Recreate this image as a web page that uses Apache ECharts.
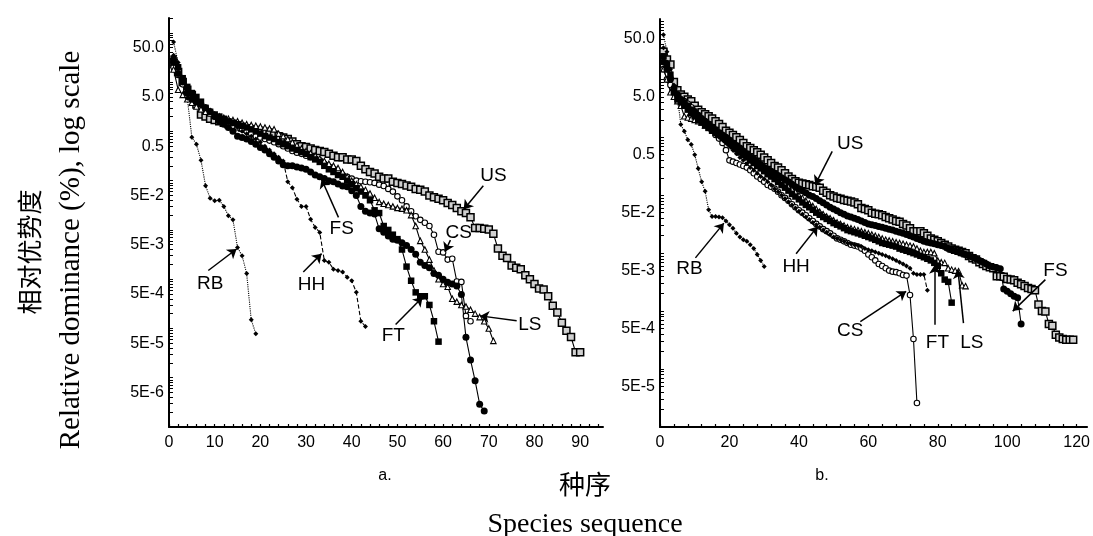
<!DOCTYPE html>
<html><head><meta charset="utf-8">
<script src="https://cdn.jsdelivr.net/npm/echarts@6/dist/echarts.min.js"></script>
<style>html,body{margin:0;padding:0;background:#fff}#c{width:1093px;height:536px}</style>
</head><body><div id="c"></div>
<script>
// ---------- Panel a data (relative dominance %, by species rank 1..n) ----------
const a_RB = [65,25,12,4.7,0.76,0.55,0.26,0.079,0.044,0.039,0.040,0.030,0.0195,0.016,0.0044,0.003,0.0013,0.00015,0.000078];
const a_HH = [35,20,12,7,5,4.5,3.8,3.2,2.7,2.3,2.0,1.8,1.6,1.4,1.2,1.0,0.9,0.8,0.7,0.6,0.5,0.42,0.35,0.3,0.25,0.095,0.072,0.042,0.030,0.030,0.0165,0.0112,0.0089,0.0024,0.0022,0.0016,0.0015,0.0014,0.0011,0.00093,0.00054,0.00014,0.00011];
const a_FS = [25,15,10,6,4.5,4,3.5,3,2.5,2.0,1.6,1.4,1.2,1.0,0.8,0.75,0.7,0.62,0.55,0.47,0.42,0.35,0.3,0.25,0.21,0.2,0.2,0.19,0.18,0.17,0.15,0.13,0.12,0.11,0.1,0.095,0.085,0.078,0.075,0.062,0.05,0.03,0.024,0.022,0.021,0.0105,0.009,0.0075,0.0065,0.0062,0.0055,0.0048,0.004,0.0032,0.0022,0.0019,0.0017,0.0013,0.0012,0.001,0.00087,0.0008,0.00073,0.00049,0.000066,0.000023,0.0000087,0.0000029,0.0000021];
const a_CS = [20,14,9,6,5,4,3.2,2.6,2.3,2.0,1.8,1.6,1.45,1.3,1.2,1.1,1.0,0.9,0.8,0.75,0.7,0.65,0.6,0.55,0.5,0.45,0.4,0.37,0.35,0.32,0.3,0.28,0.26,0.22,0.19,0.17,0.15,0.13,0.12,0.11,0.1,0.097,0.095,0.093,0.09,0.083,0.078,0.068,0.06,0.048,0.04,0.03,0.024,0.019,0.016,0.014,0.012,0.008,0.0036,0.0035,0.0025,0.0026,0.0009,0.00088,0.00018,0.00014];
const a_FT = [30,20,12,8,6,5,4,3,2.5,2.2,2.0,1.8,1.6,1.5,1.4,1.3,1.2,1.1,1.0,0.9,0.8,0.75,0.7,0.6,0.55,0.5,0.45,0.42,0.38,0.35,0.3,0.27,0.24,0.2,0.17,0.15,0.13,0.12,0.1,0.085,0.07,0.06,0.05,0.04,0.025,0.022,0.012,0.01,0.008,0.0065,0.004,0.0018,0.00093,0.00054,0.00045,0.00045,0.0003,0.00014,0.000054];
const a_LS = [18,7,5.5,4.5,3.8,3.2,2.8,2.5,2.3,2.1,2.0,1.9,1.8,1.7,1.6,1.5,1.4,1.35,1.3,1.25,1.2,1.15,1.1,0.9,0.8,0.7,0.6,0.52,0.45,0.4,0.36,0.32,0.28,0.25,0.22,0.2,0.18,0.15,0.12,0.1,0.085,0.075,0.065,0.055,0.045,0.037,0.034,0.032,0.03,0.028,0.027,0.025,0.02,0.012,0.006,0.004,0.0025,0.0015,0.001,0.0008,0.0007,0.0004,0.00035,0.0003,0.00028,0.00024,0.0002,0.00017,0.00014,0.0001,0.000056];
const a_US = [25,16,10,7,5.5,3.5,2.2,2.0,1.8,1.7,1.6,1.5,1.4,1.35,1.3,1.2,1.15,1.1,1.0,0.95,0.92,0.88,0.85,0.8,0.75,0.7,0.62,0.55,0.5,0.48,0.45,0.42,0.4,0.38,0.35,0.32,0.3,0.3,0.27,0.27,0.25,0.2,0.17,0.15,0.14,0.12,0.11,0.11,0.095,0.09,0.085,0.08,0.075,0.068,0.065,0.06,0.05,0.046,0.043,0.04,0.035,0.032,0.028,0.024,0.022,0.018,0.011,0.011,0.0105,0.0102,0.0084,0.0042,0.003,0.0027,0.0019,0.0017,0.0016,0.0012,0.001,0.0008,0.00065,0.00062,0.00045,0.00029,0.00021,0.00013,0.00009,0.000067,0.000033,0.000033];

// ---------- Panel b data ----------
const b_RB = [59,30,15,8,5.1,1.66,1.27,0.91,0.75,0.5,0.29,0.17,0.117,0.056,0.043,0.043,0.042,0.041,0.036,0.031,0.027,0.022,0.019,0.017,0.016,0.014,0.012,0.0095,0.0075,0.0059];
const b_HH = [35,20,12,7,5,4,3.5,3,2.6,2.3,2.0,1.8,1.6,1.4,1.25,1.1,1.0,0.9,0.8,0.7,0.6,0.52,0.45,0.4,0.35,0.3,0.27,0.24,0.21,0.19,0.17,0.15,0.13,0.115,0.1,0.088,0.077,0.068,0.06,0.053,0.047,0.042,0.038,0.034,0.031,0.028,0.025,0.023,0.021,0.019,0.018,0.017,0.016,0.015,0.0145,0.014,0.0135,0.013,0.012,0.0115,0.011,0.0105,0.01,0.0095,0.009,0.0085,0.008,0.0075,0.007,0.0065,0.006,0.0055,0.0045,0.0043,0.0043,0.0043,0.0023];
const b_CS = [15,10,8,6,5,4.5,4.2,3.8,3.3,2.8,2.4,2.0,1.7,1.5,1.3,1.1,0.95,0.8,0.6,0.4,0.38,0.36,0.34,0.32,0.3,0.27,0.24,0.21,0.19,0.17,0.15,0.14,0.13,0.115,0.1,0.09,0.08,0.07,0.062,0.055,0.05,0.045,0.04,0.036,0.032,0.029,0.026,0.024,0.022,0.02,0.018,0.017,0.016,0.015,0.014,0.0135,0.013,0.012,0.011,0.0095,0.0085,0.0075,0.0065,0.006,0.0055,0.005,0.0048,0.0047,0.0045,0.0042,0.0041,0.0019,0.00033,0.000026];
const b_FT = [25,18,12,6,4.5,4,3.5,3,2.6,2.3,2.0,1.8,1.6,1.45,1.3,1.2,1.1,1.0,0.9,0.8,0.7,0.62,0.55,0.5,0.45,0.4,0.36,0.32,0.29,0.26,0.23,0.21,0.19,0.17,0.15,0.135,0.12,0.105,0.095,0.085,0.075,0.068,0.062,0.056,0.05,0.046,0.042,0.039,0.036,0.033,0.031,0.029,0.027,0.025,0.024,0.023,0.022,0.021,0.02,0.019,0.018,0.017,0.016,0.015,0.0145,0.014,0.0135,0.013,0.012,0.0115,0.011,0.0105,0.01,0.0095,0.009,0.0085,0.008,0.0075,0.0068,0.006,0.0045,0.0035,0.0032,0.0014];
const b_LS = [15,10,6,5,4.2,3.5,2.3,2.2,2.1,2.0,1.9,1.8,1.6,1.5,1.4,1.3,1.2,1.1,1.0,0.9,0.8,0.7,0.62,0.55,0.5,0.45,0.4,0.36,0.33,0.3,0.27,0.25,0.22,0.2,0.18,0.16,0.145,0.13,0.115,0.1,0.09,0.08,0.072,0.065,0.058,0.052,0.047,0.043,0.04,0.037,0.034,0.032,0.03,0.028,0.027,0.026,0.025,0.024,0.023,0.022,0.021,0.02,0.019,0.018,0.017,0.0165,0.016,0.0155,0.015,0.0145,0.014,0.0135,0.013,0.012,0.011,0.0105,0.0105,0.0105,0.01,0.0075,0.007,0.0068,0.0055,0.0052,0.005,0.0049,0.0028,0.0027];
const b_FS = [20,15,10,7,5.5,4.5,4,3.5,3,2.7,2.4,2.1,1.9,1.7,1.5,1.35,1.2,1.1,1.0,0.9,0.8,0.72,0.65,0.58,0.52,0.46,0.42,0.38,0.34,0.3,0.28,0.26,0.24,0.22,0.2,0.185,0.17,0.155,0.14,0.13,0.12,0.11,0.1,0.095,0.088,0.08,0.074,0.068,0.062,0.058,0.054,0.05,0.047,0.044,0.042,0.04,0.038,0.036,0.034,0.032,0.031,0.03,0.029,0.028,0.027,0.026,0.025,0.024,0.023,0.022,0.021,0.02,0.019,0.018,0.017,0.016,0.0155,0.015,0.0145,0.014,0.0135,0.013,0.012,0.0115,0.011,0.0105,0.01,0.0095,0.009,0.0085,0.008,0.0075,0.007,0.0065,0.006,0.0058,0.0056,0.0054,0.0024,0.0022,0.002,0.0018,0.0017,0.0006];
const b_US = [30,22,18,9,6.5,5.5,5,4.5,4.2,3.5,3.0,2.7,2.5,2.3,2.1,1.9,1.7,1.5,1.3,1.2,1.1,1.0,0.9,0.8,0.7,0.65,0.6,0.55,0.5,0.45,0.4,0.36,0.32,0.3,0.27,0.24,0.21,0.19,0.175,0.165,0.16,0.155,0.15,0.143,0.14,0.135,0.12,0.11,0.1,0.095,0.09,0.087,0.083,0.08,0.078,0.075,0.07,0.06,0.058,0.055,0.05,0.048,0.047,0.045,0.042,0.04,0.038,0.036,0.035,0.032,0.03,0.027,0.024,0.024,0.024,0.022,0.02,0.018,0.017,0.016,0.015,0.014,0.013,0.012,0.0115,0.011,0.0105,0.01,0.0089,0.0082,0.0078,0.007,0.0065,0.006,0.0057,0.0055,0.004,0.004,0.0039,0.0036,0.0035,0.0034,0.0031,0.0029,0.0027,0.0025,0.0024,0.0023,0.0013,0.001,0.00098,0.0006,0.00056,0.00039,0.00035,0.00033,0.00032,0.00032,0.00032];

// ---------- tick labels ----------
const xLabelsA = [0,10,20,30,40,50,60,70,80,90];
const xLabelsB = [0,20,40,60,80,100,120];
const yLabelsA = [50,5,0.5,0.05,0.005,0.0005,0.00005,0.000005];
const yLabelsB = [50,5,0.5,0.05,0.005,0.0005,0.00005];

// ---------- annotations (label position, arrow start, arrow end), data coords ----------
const annA = {
  RB:{text:[9.0,7.9e-4],from:[8.6,1.5e-3],to:[14.8,4.1e-3]},
  HH:{text:[31.2,7.6e-4],from:[29.4,1.4e-3],to:[33.4,3.3e-3]},
  FS:{text:[37.8,0.0104],from:[37.1,0.018],to:[33.4,0.107]},
  US:{text:[71,0.125],from:[68.8,0.079],to:[64.5,0.026]},
  CS:{text:[63.4,0.0089],from:[61.6,0.0062],to:[60.4,0.0036]},
  FT:{text:[49.1,7.2e-5],from:[49.6,1.2e-4],to:[55.5,4.3e-4]},
  LS:{text:[79,1.2e-4],from:[76.1,1.44e-4],to:[68.1,1.8e-4]}
};
const annB = {
  RB:{text:[8.5,0.0053],from:[10.2,0.0083],to:[18.4,0.033]},
  HH:{text:[39.2,0.0059],from:[39.2,0.0098],to:[45.4,0.029]},
  US:{text:[54.8,0.78],from:[49.6,0.57],to:[44.7,0.152]},
  CS:{text:[54.8,4.5e-4],from:[57.7,6.6e-4],to:[70.9,0.0022]},
  FT:{text:[79.9,2.8e-4],from:[79.2,5.8e-4],to:[79.2,0.0063]},
  LS:{text:[89.8,2.8e-4],from:[87.4,6.2e-4],to:[85.8,0.0052]},
  FS:{text:[113.9,0.0049],from:[111,0.0035],to:[101.6,0.001]}
};

const styles = {
  US:{symbol:'rect',size:7,fill:'#d0d0d0',bw:1.5,line:'solid'},
  CS:{symbol:'circle',size:5.5,fill:'#fff',bw:1.1,line:'solid'},
  LS:{symbol:'triangle',size:5.5,fill:'#fff',bw:1.1,line:'solid'},
  FT:{symbol:'rect',size:6.5,fill:'#000',bw:0,line:'solid'},
  FS:{symbol:'circle',size:7,fill:'#000',bw:0,line:'solid'},
  HH:{symbol:'diamond',size:5,fill:'#000',bw:0,line:'dashed'},
  RB:{symbol:'diamond',size:5,fill:'#000',bw:0,line:'dotted'}
};

function mk(name, vals, gi, ann){
  const s = styles[name];
  const ser = {
    type:'line', name:name, xAxisIndex:gi, yAxisIndex:gi,
    data: vals.map((v,i)=>[i+1,v]),
    symbol:s.symbol, symbolSize:s.size, showSymbol:true, showAllSymbol:true,
    itemStyle:{color:s.fill, borderColor:'#000', borderWidth:s.bw},
    lineStyle:{color:'#000', width:1.1, type:s.line},
    emphasis:{disabled:true}, silent:true, animation:false
  };
  if (ann){
    ser.markLine = {silent:true, animation:false, symbol:['none','arrow'], symbolSize:9,
      lineStyle:{color:'#000', width:1.5, type:'solid'}, label:{show:false},
      emphasis:{disabled:true},
      data:[[{coord:ann.from},{coord:ann.to}]]};
    ser.markPoint = {silent:true, animation:false, symbol:'circle', symbolSize:0,
      itemStyle:{color:'rgba(0,0,0,0)'},
      label:{show:true, position:'inside', formatter:name, color:'#000', fontSize:19, fontFamily:'Liberation Sans, Arial, sans-serif'},
      data:[{coord:ann.text}]};
  }
  return ser;
}

function logTicks(min, max){
  const out = [];
  for (let k=-7;k<=3;k++) for (let m=1;m<=9;m++){
    const v = parseFloat((m*Math.pow(10,k)).toPrecision(3));
    if (v>=min && v<=max) out.push(v);
  }
  return out;
}
function fmtY(v){
  const e = Math.round(Math.log10(v/5));
  if (e>=0) return (5*Math.pow(10,e)).toFixed(1);
  if (e===-1) return '0.5';
  return '5E' + e;
}
function range(a,b,st){const r=[];for(let v=a;v<=b;v+=st)r.push(v);return r;}

const axisFont = {color:'#000', fontSize:16, fontFamily:'Liberation Sans, Arial, sans-serif'};
function xAx(gi, max, labels, tickStep){
  return {gridIndex:gi, type:'value', min:0, max:max,
    axisLine:{show:true, onZero:false, lineStyle:{color:'#000', width:2}},
    axisTick:{show:true, inside:true, length:3, customValues:range(0, max, tickStep), lineStyle:{color:'#000', width:1.2}},
    axisLabel:Object.assign({customValues:labels, margin:8}, axisFont),
    splitLine:{show:false}};
}
function yAx(gi, min, max, labels){
  return {gridIndex:gi, type:'log', logBase:10, min:min, max:max,
    axisLine:{show:true, onZero:false, lineStyle:{color:'#000', width:2}},
    axisTick:{show:true, inside:true, length:4, customValues:logTicks(min,max), lineStyle:{color:'#000', width:1}},
    axisLabel:Object.assign({customValues:labels, formatter:fmtY, margin:5}, axisFont),
    splitLine:{show:false}, minorTick:{show:false}};
}

const order = ['US','CS','LS','FT','FS','HH','RB'];
const dataA = {RB:a_RB, HH:a_HH, FS:a_FS, CS:a_CS, FT:a_FT, LS:a_LS, US:a_US};
const dataB = {RB:b_RB, HH:b_HH, FS:b_FS, CS:b_CS, FT:b_FT, LS:b_LS, US:b_US};
const series = [];
order.forEach(n=>series.push(mk(n, dataA[n], 0, annA[n])));
order.forEach(n=>series.push(mk(n, dataB[n], 1, annB[n])));

const chart = echarts.init(document.getElementById('c'), null, {renderer:'canvas'});
chart.setOption({
  animation:false,
  backgroundColor:'#fff',
  grid:[{left:169, top:18, width:434, height:409}, {left:660, top:19, width:433, height:408}],
  xAxis:[xAx(0, 95, xLabelsA, 2), xAx(1, 123, xLabelsB, 4)],
  yAxis:[yAx(0, 1e-6, 200, yLabelsA), yAx(1, 1e-5, 110, yLabelsB)],
  series:series,
  graphic:[
    {type:'text', x:29, y:252, rotation:Math.PI/2, style:{text:'相对优势度', font:'25px "Noto Sans CJK SC"', fill:'#000', textAlign:'center', textVerticalAlign:'middle'}},
    {type:'text', x:71, y:250, rotation:Math.PI/2, style:{text:'Relative dominance (%), log scale', font:'29px "Liberation Serif", "Times New Roman", serif', fill:'#000', textAlign:'center', textVerticalAlign:'middle'}},
    {type:'text', x:585, y:484, style:{text:'种序', font:'26px "Noto Sans CJK SC"', fill:'#000', textAlign:'center', textVerticalAlign:'middle'}},
    {type:'text', x:585, y:525, style:{text:'Species sequence', font:'28px "Liberation Serif", "Times New Roman", serif', fill:'#000', textAlign:'center', textVerticalAlign:'middle'}},
    {type:'text', x:385, y:476, style:{text:'a.', font:'16px "Liberation Sans", Arial, sans-serif', fill:'#000', textAlign:'center', textVerticalAlign:'middle'}},
    {type:'text', x:822, y:476, style:{text:'b.', font:'16px "Liberation Sans", Arial, sans-serif', fill:'#000', textAlign:'center', textVerticalAlign:'middle'}}
  ]
});
</script></body></html>
